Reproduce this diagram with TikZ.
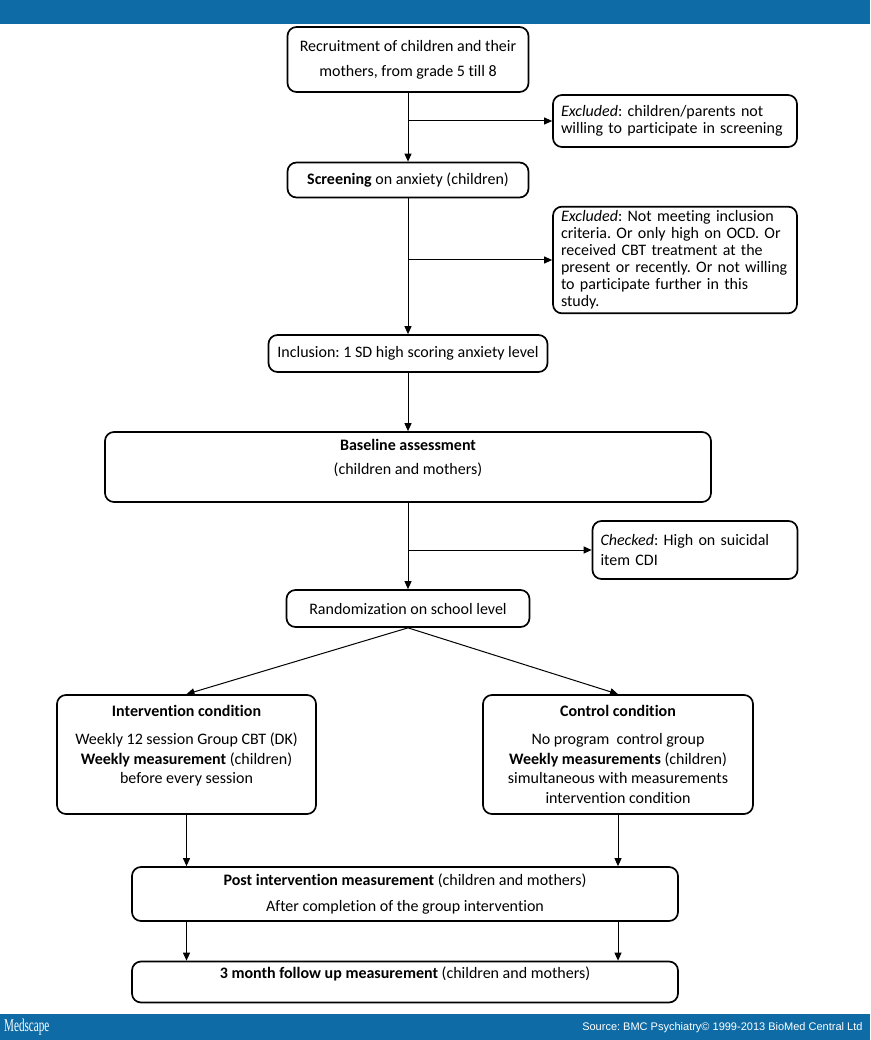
\documentclass[tikz,border=0pt]{standalone}
\usepackage{fontspec}
\setmainfont{Carlito}[Ligatures=CommonOff]
\newfontfamily\srcfont{Liberation Sans}
\newfontfamily\logofont[FakeStretch=0.62]{Liberation Serif}
\usetikzlibrary{arrows.meta, positioning, calc}
\definecolor{medblue}{RGB}{14,107,165}
\frenchspacing
\tikzset{
  box/.style={draw, line width=1.7pt, rounded corners=9pt, align=center, inner sep=4pt,
    font=\fontsize{16}{19.5}\selectfont},
  sidebox/.style={box, align=left, inner xsep=8pt},
  arr/.style={-{Triangle[length=8pt,width=7pt]}, line width=1pt},
}

\begin{document}
\begin{tikzpicture}[x=1pt, y=-1pt]
\useasboundingbox (0,0) rectangle (870,1040);

% banners
\fill[medblue] (0,0) rectangle (870,24);
\fill[medblue] (0,1014) rectangle (870,1040);
\node[font=\logofont\fontsize{18}{18}\selectfont, text=white, anchor=west, inner sep=0pt] (logo) at (4,1027) {Medscape};
\node[font=\srcfont\fontsize{11}{11}\selectfont, text=white, anchor=east] (src) at (866,1028) {Source: BMC Psychiatry\textcopyright{} 1999-2013 BioMed Central Ltd};

% main column
\node[box, minimum width=241pt, minimum height=65pt] (recr) at (408,59.5)
  {Recruitment of children and their\\[5.5pt]mothers, from grade 5 till 8};
\node[box, minimum width=241pt, minimum height=35pt] (scr) at (408,180)
  {\textbf{Screening} on anxiety (children)};
\node[box, minimum width=279pt, minimum height=37pt] (incl) at (408,353.5)
  {Inclusion: 1 SD high scoring anxiety level};
\node[box, minimum width=606pt, minimum height=70pt] (base) at (408,467)
  {\textbf{Baseline assessment}\\[4.5pt](children and mothers)\\\mbox{}};
\node[box, minimum width=243pt, minimum height=37pt] (rand) at (408,608.5)
  {Randomization on school level};

% side boxes
\node[sidebox, text width=228pt, minimum height=52pt, font=\fontsize{16}{17}\selectfont] (excl1) at (675,121)
  {\textit{Excluded}: children/parents not\\willing to participate in screening};
\node[sidebox, text width=228pt, minimum height=100pt, font=\fontsize{16}{17}\selectfont] (excl2) at (675,260)
  {\textit{Excluded}: Not meeting inclusion\\criteria. Or only high on OCD. Or\\received CBT treatment at the\\present or recently. Or not willing\\to participate further in this\\study.};
\node[sidebox, text width=189pt, minimum height=58pt] (chk) at (695,550)
  {\textit{Checked}: High on suicidal\\item CDI};

% groups
\node[box, minimum width=259pt, minimum height=119pt] (interv) at (186.5,754.5)
  {\textbf{Intervention condition}\\[8.5pt]Weekly 12 session Group CBT (DK)\\\textbf{Weekly measurement} (children)\\before every session\\\mbox{}};
\node[box, minimum width=270pt, minimum height=119pt] (ctrl) at (618,754.5)
  {\textbf{Control condition}\\[8.5pt]No program\ \ control group\\\textbf{Weekly measurements} (children)\\simultaneous with measurements\\intervention condition};

% measurements
\node[box, minimum width=546pt, minimum height=54pt] (post) at (405,894)
  {\textbf{Post intervention measurement} (children and mothers)\\[6.5pt]After completion of the group intervention};
\node[box, minimum width=546pt, minimum height=41pt] (fup) at (405,982)
  {\textbf{3 month follow up measurement} (children and mothers)\\\mbox{}};

% connectors
\draw[arr] (recr) -- (scr);
\draw[arr] (recr.south |- excl1.west) -- (excl1.west);
\draw[arr] (scr) -- (incl);
\draw[arr] (scr.south |- excl2.west) -- (excl2.west);
\draw[arr] (incl) -- (base);
\draw[arr] (base) -- (rand);
\draw[arr] (base.south |- chk.west) -- (chk.west);
\draw[arr] (rand.south) -- (interv.north);
\draw[arr] (rand.south) -- (ctrl.north);
\draw[arr] (interv) -- (interv |- post.north);
\draw[arr] (ctrl) -- (ctrl |- post.north);
\draw[arr] (post.south -| interv) -- (fup.north -| interv);
\draw[arr] (post.south -| ctrl) -- (fup.north -| ctrl);
\end{tikzpicture}
\end{document}
